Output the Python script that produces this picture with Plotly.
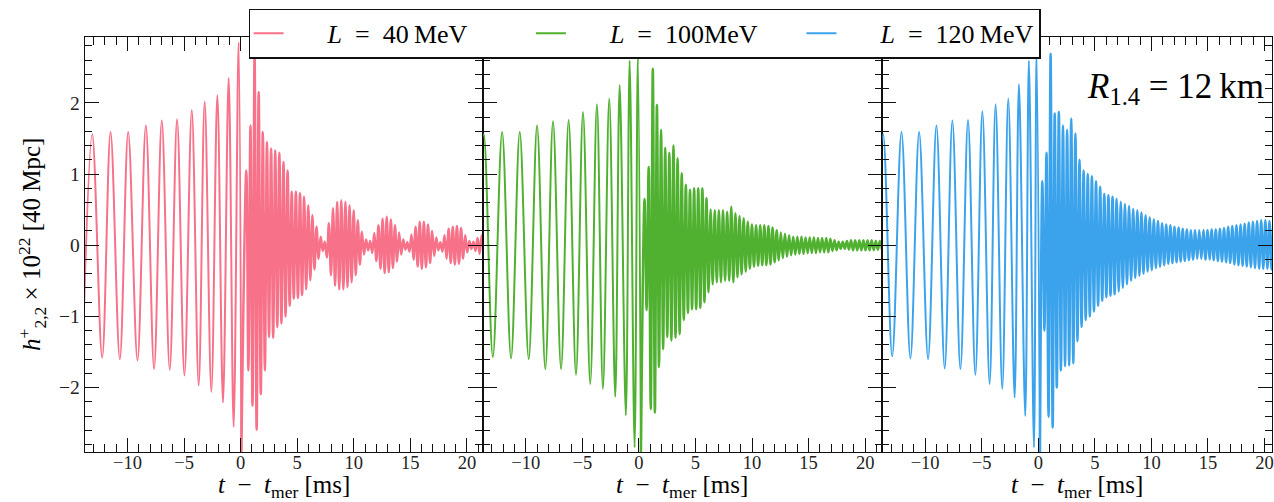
import plotly.graph_objects as go

# ---------------- data ----------------
# inspiral extrema: time t - t_mer [ms] and strain h_22^+ x 1e22
l40_insp_t = [-13.97, -13.12, -12.24, -11.50, -10.68, -9.94, -9.12, -8.38, -7.65, -6.97, -6.27,
              -5.62, -4.97, -4.32, -3.71, -3.18, -2.59, -2.06, -1.56, -1.06, -0.62, -0.18, 0.06]
l40_insp_h = [-1.56, 1.56, -1.58, 1.59, -1.60, 1.59, -1.62, 1.68, -1.74, 1.75, -1.75,
              1.77, -1.83, 1.90, -1.97, 2.02, -2.06, 2.11, -2.21, 2.35, -2.55, 2.85, -2.95]

l100_insp_t = [-14.55, -13.71, -12.91, -12.09, -11.30, -10.53, -9.74, -9.00, -8.27, -7.59, -6.88, -6.21,
               -5.56, -4.94, -4.30, -3.71, -3.18, -2.62, -2.09, -1.70, -1.15, -0.82, -0.38, -0.09, 0.18]
l100_insp_h = [-1.56, 1.56, -1.57, 1.59, -1.59, 1.59, -1.60, 1.68, -1.74, 1.74, -1.74, 1.76,
               -1.82, 1.87, -1.95, 1.98, -2.02, 2.06, -2.13, 2.25, -2.39, 2.59, -2.84, 2.65, -2.95]

l120_insp_t = [-14.55, -13.71, -12.91, -12.09, -11.30, -10.53, -9.74, -9.00, -8.27, -7.59, -6.88, -6.21,
               -5.56, -4.94, -4.30, -3.77, -3.18, -2.65, -2.09, -1.71, -1.15, -0.83, -0.38, -0.15, 0.15]
l120_insp_h = [-1.56, 1.56, -1.56, 1.59, -1.59, 1.59, -1.60, 1.68, -1.73, 1.75, -1.74, 1.76,
               -1.82, 1.88, -1.95, 1.98, -2.02, 2.06, -2.14, 2.26, -2.40, 2.59, -2.84, 2.73, -2.95]

# post-merger: first peak time, oscillation period [ms], peak and trough value of each cycle
pm_period = 0.365
l40_pm_t0 = 0.50
l40_pm_up = [1.05, 1.68, 2.66, 2.15, 1.59, 1.45, 1.36, 1.33, 1.30, 1.17, 1.05, 0.75, 0.75, 0.73, 0.68,
             0.56, 0.42, 0.26, 0.12, 0.05, 0.31, 0.52, 0.61, 0.63, 0.61, 0.56, 0.49, 0.35, 0.19, 0.08,
             0.06, 0.17, 0.28, 0.37, 0.40, 0.36, 0.28, 0.18, 0.08, 0.04, 0.15, 0.26, 0.33, 0.33, 0.29,
             0.20, 0.11, 0.04, 0.14, 0.23, 0.26, 0.27, 0.24, 0.14, 0.06, 0.05, 0.10, 0.14]
l40_pm_lo = [-1.76, -2.25, -2.59, -2.09, -1.76, -1.29, -1.30, -1.15, -1.10, -1.00, -0.85, -0.75, -0.74,
             -0.70, -0.62, -0.49, -0.34, -0.19, -0.08, -0.17, -0.42, -0.57, -0.62, -0.62, -0.59, -0.52,
             -0.42, -0.27, -0.13, -0.07, -0.11, -0.22, -0.33, -0.39, -0.38, -0.32, -0.23, -0.13, -0.06,
             -0.09, -0.20, -0.30, -0.33, -0.31, -0.25, -0.15, -0.07, -0.09, -0.19, -0.25, -0.27, -0.26,
             -0.19, -0.10, -0.05, -0.08, -0.12, -0.15]

l100_pm_t0 = 0.50
l100_pm_up = [0.65, 1.10, 2.48, 1.97, 1.62, 1.37, 1.30, 1.40, 1.22, 1.01, 0.85, 0.78, 0.80, 0.80, 0.80,
              0.66, 0.50, 0.49, 0.49, 0.49, 0.47, 0.54, 0.45, 0.41, 0.38, 0.33, 0.29, 0.28, 0.28, 0.28,
              0.27, 0.25, 0.21, 0.18, 0.16, 0.14, 0.12, 0.12, 0.12, 0.11, 0.11, 0.11, 0.10, 0.10, 0.10,
              0.09, 0.07, 0.05, 0.05, 0.06, 0.07, 0.07, 0.07, 0.07, 0.07, 0.07, 0.06, 0.06]
l100_pm_lo = [-0.91, -2.30, -2.35, -1.71, -1.46, -1.29, -1.34, -1.30, -1.25, -1.05, -0.95, -0.90, -0.90,
              -0.88, -0.80, -0.66, -0.55, -0.52, -0.52, -0.50, -0.50, -0.52, -0.45, -0.41, -0.37, -0.33,
              -0.30, -0.29, -0.28, -0.28, -0.27, -0.24, -0.21, -0.18, -0.16, -0.14, -0.13, -0.12, -0.12,
              -0.11, -0.11, -0.11, -0.10, -0.10, -0.10, -0.08, -0.07, -0.05, -0.05, -0.06, -0.07, -0.07,
              -0.07, -0.07, -0.07, -0.07, -0.06, -0.06]

l120_pm_t0 = 0.36
l120_pm_up = [0.90, 1.30, 2.69, 1.85, 1.87, 1.68, 1.62, 1.78, 1.57, 1.20, 1.05, 1.00, 0.97, 0.90, 0.82,
              0.72, 0.70, 0.68, 0.65, 0.61, 0.58, 0.55, 0.51, 0.49, 0.46, 0.42, 0.39, 0.36, 0.34, 0.31,
              0.29, 0.28, 0.26, 0.25, 0.23, 0.22, 0.21, 0.21, 0.21, 0.21, 0.21, 0.22, 0.22, 0.23, 0.24,
              0.26, 0.27, 0.28, 0.29, 0.30, 0.32, 0.33, 0.34, 0.35, 0.35, 0.34, 0.35, 0.35]
l120_pm_lo = [-1.20, -2.41, -2.56, -2.00, -1.76, -1.70, -1.69, -1.66, -1.35, -1.15, -1.05, -1.00, -0.93,
              -0.85, -0.78, -0.73, -0.71, -0.69, -0.65, -0.60, -0.55, -0.50, -0.46, -0.43, -0.40, -0.37,
              -0.35, -0.32, -0.30, -0.28, -0.26, -0.25, -0.24, -0.23, -0.22, -0.21, -0.20, -0.19, -0.19,
              -0.20, -0.20, -0.21, -0.22, -0.23, -0.24, -0.25, -0.27, -0.28, -0.29, -0.30, -0.31, -0.32,
              -0.33, -0.33, -0.33, -0.34, -0.34, -0.34]

series_names = ["<i>L</i>\u00a0\u00a0=\u00a0\u00a040\u2009MeV",
                "<i>L</i>\u00a0\u00a0=\u00a0\u00a0100MeV",
                "<i>L</i>\u00a0\u00a0=\u00a0\u00a0120\u2009MeV"]
series_colors = ["#f77189", "#50b131", "#3ba3ec"]

x_tick_vals = [-10, -5, 0, 5, 10, 15, 20]
y_tick_vals = [-2, -1, 0, 1, 2]


def postmerger(t0, up, lo):
    t, h = [], []
    for k, (a, b) in enumerate(zip(up, lo)):
        t.append(t0 + k * pm_period)
        h.append(a)
        t.append(t0 + (k + 0.5) * pm_period)
        h.append(b)
    return t, h


inspirals = [(l40_insp_t, l40_insp_h), (l100_insp_t, l100_insp_h), (l120_insp_t, l120_insp_h)]
mergers = [postmerger(l40_pm_t0, l40_pm_up, l40_pm_lo),
           postmerger(l100_pm_t0, l100_pm_up, l100_pm_lo),
           postmerger(l120_pm_t0, l120_pm_up, l120_pm_lo)]

# ---------------- figure ----------------
W, H = 1274, 502
FONT = "Liberation Serif"
INK = "#111111"
NB = "\u00a0"
lead = NB * 6
trail = [NB * 9, NB * 6, ""]

fig = go.Figure()
for i in range(3):
    sfx = "" if i == 0 else str(i + 1)
    it, ih = inspirals[i]
    mt, mh = mergers[i]
    fig.add_trace(go.Scatter(
        x=it, y=ih, mode="lines", name=lead + series_names[i] + trail[i],
        legendgroup=str(i),
        line=dict(color=series_colors[i], width=2.0, shape="spline", smoothing=1.0),
        xaxis="x" + sfx, yaxis="y" + sfx, hoverinfo="skip",
    ))
    fig.add_trace(go.Scatter(
        x=[it[-1]] + mt, y=[ih[-1]] + mh, mode="lines", showlegend=False,
        legendgroup=str(i),
        line=dict(color=series_colors[i], width=2.5, shape="spline", smoothing=1.0),
        xaxis="x" + sfx, yaxis="y" + sfx, hoverinfo="skip",
    ))

x_edges = [85, 483.3, 883.3, 1274]
x_ranges = [[-13.77, 21.38], [-13.82, 21.48], [-13.82, 20.66]]
y_dom = [1 - 451.7 / H, 1 - 37.3 / H]

layout = dict(
    width=W, height=H, margin=dict(l=0, r=0, t=0, b=0),
    paper_bgcolor="white", plot_bgcolor="white",
    font=dict(family=FONT, size=19, color=INK),
    showlegend=True,
    legend=dict(orientation="h", x=249 / W, xanchor="left", y=1 - 8.5 / H, yanchor="top",
                bgcolor="white", bordercolor=INK, borderwidth=1.3,
                font=dict(family=FONT, size=26, color="black"),
                itemwidth=30, tracegroupgap=0),
)
for i in range(3):
    sfx = "" if i == 0 else str(i + 1)
    layout["xaxis" + sfx] = dict(
        domain=[x_edges[i] / W, x_edges[i + 1] / W], range=x_ranges[i],
        anchor="y" + sfx, showgrid=False, zeroline=False,
        showline=True, linecolor=INK, linewidth=1.3, mirror="ticks",
        ticks="inside", ticklen=14, tickwidth=1.3, tickcolor=INK,
        tickmode="array", tickvals=x_tick_vals, ticklabeloverflow="allow",
        ticklabelstandoff=-6,
        tickfont=dict(family=FONT, size=18.5, color="#222"),
        minor=dict(ticks="inside", ticklen=8, tickwidth=1.1, tickcolor=INK, dtick=1, tick0=0, showgrid=False),
    )
    layout["yaxis" + sfx] = dict(
        domain=y_dom, range=[-2.9, 2.92], anchor="x" + sfx,
        showgrid=False, zeroline=False,
        showline=True, linecolor=INK, linewidth=1.3, mirror="ticks",
        ticks="inside", ticklen=14, tickwidth=1.3, tickcolor=INK,
        tickmode="array", tickvals=y_tick_vals, showticklabels=(i == 0),
        tickfont=dict(family=FONT, size=19.5, color="#222"),
        minor=dict(ticks="inside", ticklen=7, tickwidth=1.1, tickcolor=INK, dtick=0.2, tick0=0, showgrid=False),
    )
fig.update_layout(**layout)

xtitle = "<i>t</i>" + NB * 2 + "\u2212" + NB * 2 + "<i>t</i><sub>mer</sub>" + NB + "[ms]"
for i in range(3):
    cx = (x_edges[i] + min(x_edges[i + 1], 1283)) / 2
    fig.add_annotation(x=cx / W, y=1 - 486.5 / H, xref="paper", yref="paper", text=xtitle,
                       showarrow=False, xanchor="center", yanchor="middle",
                       font=dict(family=FONT, size=25, color="black"))

fig.add_annotation(x=32 / W, y=1 - 244 / H, xref="paper", yref="paper",
                   text="<i>h</i><sup>+</sup><sub>2,2</sub>" + NB + "\u00d7" + NB + "10<sup>22</sup>" + NB
                        + "[40" + NB + "Mpc]",
                   textangle=-90, showarrow=False, xanchor="center", yanchor="middle",
                   font=dict(family=FONT, size=25, color="black"))

fig.add_annotation(x=1087 / W, y=1 - 88 / H, xref="paper", yref="paper",
                   text="<i>R</i><sub>1.4</sub>" + NB + "=" + NB + "12\u2009km",
                   showarrow=False, xanchor="left", yanchor="middle",
                   font=dict(family=FONT, size=35, color="black"))

fig.write_html("out.html")
